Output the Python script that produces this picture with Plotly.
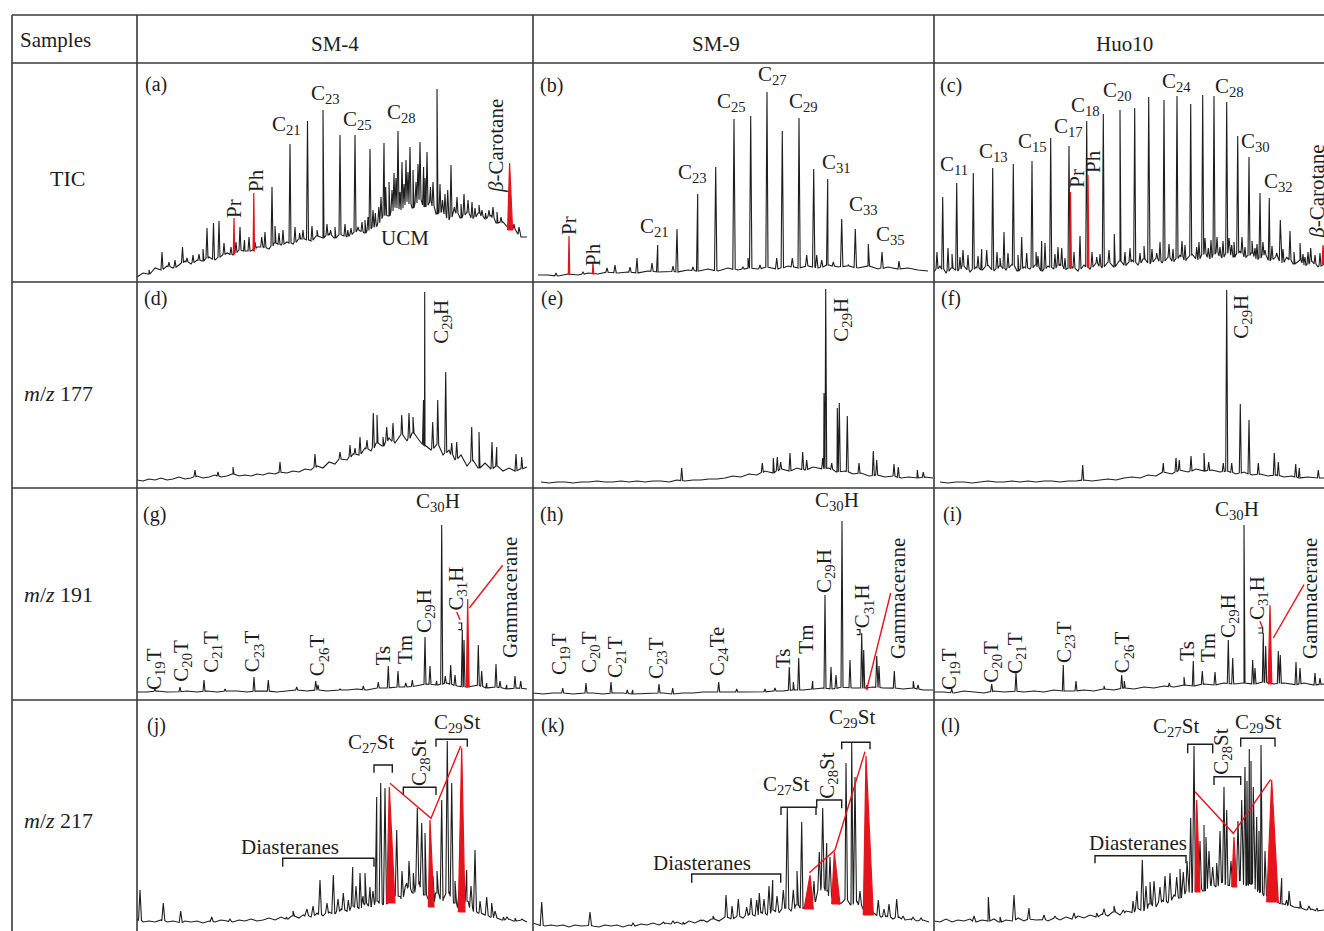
import numpy as np
import plotly.graph_objects as go

# page geometry: body margin is removed after plotting so the figure fills the window
PAGE_MARGIN = 0
FIG_W, FIG_H = 1324, 931
GRID_X = [12, 137, 533, 934]
GRID_Y = [15, 63, 282, 488, 700]
RIGHT_EDGE, BOTTOM_EDGE = 1324, 931
FONT = "Liberation Serif"
INK = "#1e1e1e"
RED = "#e5141c"
RULE = "#3a3a3a"

SAMPLES = ["SM-4", "SM-9", "Huo10"]
ROW_NAMES = ["TIC", "<i>m</i>/<i>z</i> 177", "<i>m</i>/<i>z</i> 191", "<i>m</i>/<i>z</i> 217"]

# ---------------- (a) SM-4 TIC ----------------
A_BX = list(range(0, 391, 6))
A_BY = [5, 9, 8, 14, 12, 16, 14, 17, 21, 18,
        22, 21, 25, 22, 26, 29, 27, 32, 31, 31,
        35, 35, 33, 39, 37, 40, 38, 43, 43, 41,
        46, 44, 48, 44, 48, 45, 49, 52, 49, 54,
        56, 67, 66, 76, 72, 82, 74, 84, 75, 80,
        68, 71, 62, 71, 64, 70, 63, 69, 63, 67,
        59, 60, 53, 53, 45, 45]
A_PX = [25, 45.5, 56, 70, 76.5, 82, 87, 103, 107.5, 124.7, 135, 142, 153, 162.6, 166, 170.5, 180, 186,
        193.6, 203, 210.8, 218, 221, 228, 233, 238.3, 241.8, 247, 248.7, 257, 261, 265, 269, 273, 276,
        283, 286.6, 290, 293.5, 300, 305.5, 310.7, 314, 317.5, 331, 342, 348.5, 356]
A_PY = [30, 35, 27, 54, 59, 61, 39, 55, 42, 45, 95, 49, 138, 49, 52, 161, 52, 172,
        52, 147, 52, 147, 55, 62, 133, 69, 75, 139, 95, 109, 151, 120, 122, 135, 112,
        140, 115, 130, 95, 193, 82, 92, 117, 75, 82, 77, 69, 75]
A_MX = [12, 32, 38, 50, 62, 66, 94, 99, 112, 118, 128, 138, 146, 158, 175, 190, 198, 208, 214, 225,
        231, 236, 244, 252, 255, 259, 263, 267, 271, 279, 281, 288, 296, 303, 308, 320, 324, 327, 335,
        338, 345, 352, 360, 364, 377, 382]
A_MY = [12, 20, 22, 24, 28, 33, 35, 40, 45, 40, 50, 56, 52, 55, 56, 58, 55, 58, 54, 60,
        65, 72, 85, 100, 92, 104, 90, 98, 110, 100, 118, 104, 100, 98, 88, 85, 78, 88, 80,
        74, 72, 72, 70, 65, 58, 55]
A_RX = [97, 116.8, 372.6]
A_RY = [64, 89, 119]
A_RB = [28, 31, 52]

# ---------------- (b) SM-9 TIC ----------------
B_BX = list(range(5, 396, 10))
B_BY = [7, 7, 6, 8, 7, 9, 8, 10, 9, 10,
        9, 11, 10, 11, 10, 12, 11, 13, 11, 14,
        12, 14, 13, 15, 13, 16, 14, 16, 14, 17,
        15, 16, 14, 16, 13, 15, 13, 14, 12, 11]
B_PX = [23, 50, 74, 82, 97, 104, 119, 124.7, 140, 144, 160, 164.7, 182.7, 201, 210, 215, 217.7, 227,
        234, 243.7, 249.3, 259.3, 266, 273.7, 280.7, 283.7, 288.7, 294.7, 300.3, 308.7, 315.3, 322.3,
        335.3, 349, 366]
B_PY = [9, 10, 14, 17, 15, 24, 19, 37, 16, 53, 15, 88, 115, 163, 15, 24, 166, 17,
        190, 24, 151, 24, 164, 27, 113, 27, 22, 103, 20, 63, 17, 53,
        38, 30, 21]
B_RX = [36, 60]
B_RY = [46, 19]
B_RB = [8, 8]

# ---------------- (c) Huo10 TIC ----------------
C_BX = list(range(0, 391, 6))
C_BY = [10, 16, 9, 14, 11, 17, 10, 15, 12, 17,
        11, 16, 12, 18, 11, 15, 13, 17, 11, 16,
        13, 18, 12, 15, 11, 17, 13, 19, 14, 20,
        15, 21, 16, 22, 17, 23, 18, 24, 19, 25,
        20, 27, 21, 28, 22, 29, 23, 30, 24, 30,
        25, 31, 24, 29, 22, 28, 21, 26, 19, 24,
        18, 22, 16, 21, 15, 18]
C_PX = [8.7, 14, 22.7, 29, 39.3, 47.7, 52.7, 58.7, 70, 74, 79.3, 87.7, 92.7, 98, 107.7, 111, 116.7,
        127.7, 135, 146, 152.7, 162.7, 169.3, 180.3, 186, 196, 200.7, 206, 214.7, 222.7, 230, 243,
        256.7, 262.7, 268.7, 274.3, 280, 286, 292.7, 297.7, 303.7, 311, 315, 321, 326, 331, 335.3,
        342.7, 346.3, 352.7, 356, 366, 371, 376.7]
C_PY = [85, 34, 99, 32, 109, 33, 32, 114, 50, 29, 118, 45, 29, 121, 41, 39, 144,
        34, 136, 46, 161, 25, 168, 48, 172, 34, 174, 29, 185, 29, 182, 186,
        178, 35, 187, 34, 186, 35, 180, 37, 146, 35, 125, 34, 89, 32, 84,
        29, 62, 25, 51, 39, 25, 34]
C_MX = [3, 18, 26, 34, 44, 63, 66, 84, 102, 104, 121, 124, 131, 140, 158, 166, 175, 191, 210, 218,
        226, 235, 239, 248, 251, 265, 271, 277, 283, 289, 295, 300, 308, 318, 323, 329, 338, 349,
        360, 369, 374, 381, 386]
C_MY = [30, 28, 25, 27, 26, 30, 24, 27, 30, 26, 28, 35, 24, 30, 30, 28, 32, 30, 36, 33,
        40, 38, 33, 41, 37, 40, 44, 42, 45, 41, 44, 40, 45, 41, 38, 40, 36, 33,
        30, 28, 30, 27, 29]
C_RX = [136.5, 154, 389]
C_RY = [90, 107, 37]
C_RB = [14, 15, 18]

# ---------------- (d) SM-4 m/z 177 ----------------
D_BX = list(range(0, 391, 6))
D_BY = [8, 7, 9, 8, 10, 8, 9, 11, 9, 10,
        12, 10, 11, 13, 11, 12, 14, 12, 13, 12,
        14, 13, 15, 14, 16, 15, 17, 16, 19, 18,
        22, 20, 26, 24, 30, 28, 34, 33, 40, 37,
        45, 42, 50, 45, 54, 47, 55, 48, 42, 38,
        44, 33, 38, 28, 33, 22, 28, 20, 25, 19,
        22, 17, 20, 17, 19, 21]
D_PX = [58, 81, 96, 143, 178, 203, 213, 218, 223, 230, 236.3, 240, 246, 249.7, 256, 264.7, 272,
        276, 286.5, 287.7, 295.7, 300.7, 308.7, 314.7, 319.7, 334.7, 342, 355, 359.7, 379, 384.7]
D_PY = [18, 16, 21, 26, 34, 36, 43, 40, 51, 48, 75, 73, 51, 61, 65, 73, 75,
        71, 88, 196, 66, 88, 116, 45, 46, 61, 56, 46, 41, 34, 31]

# ---------------- (e) SM-9 m/z 177 ----------------
E_BX = list(range(8, 401, 8))
E_BY = [6, 5, 6, 6, 5, 6, 6, 7, 6, 6,
        7, 6, 7, 6, 7, 7, 6, 8, 7, 8,
        8, 9, 9, 10, 12, 11, 14, 13, 17, 15,
        19, 17, 20, 18, 21, 19, 20, 16, 17, 14,
        15, 12, 13, 11, 12, 10, 11, 10, 11, 10]
E_PX = [148.7, 229.3, 240.3, 244.3, 247.7, 257, 269.7, 273.7, 289.7, 291, 292.7, 298.7, 304.3,
        306.3, 314.3, 326, 340.3, 343.7, 361, 365.3, 384.3, 390.3]
E_PY = [20, 25, 30, 31, 26, 35, 36, 28, 30, 95, 199, 25, 80,
        85, 72, 25, 37, 28, 24, 21, 18, 16]

# ---------------- (f) Huo10 m/z 177 ----------------
F_BX = list(range(6, 391, 8))
F_BY = [6, 5, 6, 6, 5, 6, 7, 6, 6, 7,
        6, 7, 6, 7, 7, 6, 7, 7, 8, 7,
        8, 9, 8, 10, 11, 10, 13, 12, 16, 14,
        18, 16, 19, 17, 18, 16, 17, 14, 16, 13,
        14, 12, 13, 11, 12, 10, 11, 10, 10]
F_PX = [148.7, 229.3, 242, 245.3, 257, 270, 274.7, 289.3, 292.7, 297.7, 306.3, 315, 324.3, 340.3,
        344.3, 361.7, 365.3, 384.3]
F_PY = [23, 25, 30, 28, 32, 35, 26, 25, 198, 25, 84, 68, 25, 35,
        26, 24, 20, 18]

# ---------------- (g) SM-4 m/z 191 ----------------
G_BX = list(range(0, 391, 10))
G_BY = [8, 8, 9, 8, 8, 9, 8, 9, 8, 9,
        9, 8, 9, 9, 8, 9, 10, 9, 10, 9,
        10, 10, 11, 10, 12, 12, 13, 13, 14, 16,
        15, 17, 14, 13, 15, 12, 13, 11, 12, 11]
G_PX = [18, 43, 67, 88, 117, 131.3, 159.7, 178.7, 181, 203, 226.3, 241.3, 251.3, 261, 268.7, 275.3,
        288, 293, 299.7, 304.7, 308.3, 313.7, 318, 325.3, 327, 341.3, 344.7, 349.7, 359, 363, 369.7,
        378, 383.7]
G_PY = [11, 13, 20, 11, 23, 20, 13, 19, 15, 11, 14, 18, 34, 29, 17, 20,
        63, 34, 19, 175, 24, 35, 25, 70, 60, 55, 29, 17, 36, 19, 15,
        24, 19]
G_RX = [330.7]
G_RY = [101]
G_RB = [13]

# ---------------- (h) SM-9 m/z 191 ----------------
H_BX = list(range(0, 401, 10))
H_BY = [7, 6, 7, 7, 6, 7, 7, 6, 7, 7, 6, 7, 7, 7, 6, 7, 7,
        8, 8, 8, 8, 8, 8, 8, 9, 9, 10, 10, 11, 12, 11, 13, 12, 12, 13, 12, 12, 11, 12, 10, 10]
H_PX = [29.7, 53, 78, 94.3, 99.7, 126, 139.7, 185.7, 203.7, 232, 242, 256.3, 260.3, 265.7, 279.7,
        292, 298, 303, 309, 317, 328.7, 330.7, 343.7, 346, 361.3, 380.3, 385]
H_PY = [12, 17, 18, 10, 10, 16, 12, 18, 11, 11, 12, 33, 18, 42, 19,
        105, 33, 25, 179, 40, 67, 50, 44, 34, 29, 19, 15]
H_RX = [333.7]
H_RY = [15]
H_RB = [11]

# ---------------- (i) Huo10 m/z 191 ----------------
I_BX = list(range(0, 391, 10))
I_BY = [8, 8, 7, 9, 8, 7, 9, 8, 9, 8,
        9, 8, 10, 9, 9, 10, 9, 11, 10, 12,
        11, 13, 12, 14, 13, 15, 14, 16, 15, 17,
        16, 17, 16, 18, 16, 17, 15, 17, 15, 16]
I_PX = [17.7, 57.7, 82, 129.3, 142, 170, 187.7, 190.3, 235.3, 250, 259.3, 268.3, 281, 294.3, 298.7,
        310, 318.7, 321, 329.3, 331.7, 344.3, 346.3, 362, 366, 381, 386]
I_PY = [11, 16, 27, 35, 19, 14, 25, 19, 17, 23, 39, 29, 28, 60, 42,
        175, 40, 32, 67, 54, 49, 45, 38, 32, 27, 22]
I_RX = [336]
I_RY = [95]
I_RB = [16]

# ---------------- (j) SM-4 m/z 217 ----------------
J_BX = list(range(0, 391, 6))
J_BY = [12, 9, 10, 9, 11, 9, 10, 8, 10, 9,
        10, 8, 10, 9, 11, 10, 9, 11, 10, 12,
        10, 11, 13, 11, 14, 12, 15, 13, 16, 14,
        18, 15, 19, 17, 22, 19, 25, 22, 28, 24,
        30, 26, 29, 36, 32, 45, 38, 50, 36, 25,
        38, 30, 40, 28, 21, 30, 20, 18, 16, 14,
        13, 11, 12, 10, 11, 9]
J_PX = [3, 26.3, 43.7, 74.7, 93, 149.7, 166.3, 183, 196.3, 206.3, 211.3, 215.7, 223, 228, 233,
        239.7, 243.7, 248, 259.7, 269.7, 276.3, 280.3, 284.7, 288, 304.7, 310.3, 314.7, 329.7, 338,
        349.7, 354.7, 366.3]
J_PY = [41, 28, 20, 14, 12, 14, 16, 51, 56, 38, 31, 64, 58, 58, 44,
        134, 148, 143, 101, 48, 58, 123, 108, 98, 131, 190, 148, 61, 81,
        34, 28, 14]
J_MX = [156, 170, 176, 190, 201, 219, 226, 236, 265, 272, 296, 300, 318, 322, 334, 343, 358, 370, 378, 385]
J_MY = [20, 22, 25, 28, 32, 45, 35, 40, 60, 70, 55, 60, 50, 40, 45, 30, 20, 14, 13, 12]
J_RX = [252.3, 293, 324.7]
J_RY = [144, 111, 183]
J_RB = [28, 24, 19]

# ---------------- (k) SM-9 m/z 217 ----------------
K_BX = list(range(0, 397, 6))
K_BY = [8, 6, 5, 6, 5, 6, 4, 6, 5, 6,
        5, 4, 6, 5, 6, 4, 6, 5, 7, 6,
        8, 6, 8, 7, 9, 7, 10, 8, 11, 9,
        12, 10, 14, 12, 15, 13, 17, 15, 19, 16,
        21, 18, 24, 20, 26, 22, 25, 30, 45, 40,
        30, 27, 32, 26, 30, 22, 20, 17, 14, 15,
        12, 14, 11, 12, 10, 11, 9]
K_PX = [8.7, 57, 130.3, 170.3, 193, 205.3, 213.7, 223.7, 226.3, 239.7, 250.3, 254.3, 260.3, 268.7,
        286.3, 289.7, 293.7, 297, 307, 313, 318.7, 322, 345.3, 363.7]
K_PY = [29, 19, 9, 11, 36, 32, 24, 31, 38, 51, 41, 123, 41, 109,
        79, 123, 88, 74, 28, 168, 188, 154, 31, 32]
K_MX = [100, 140, 150, 180, 199, 218, 231, 236, 244, 264, 275, 281, 304, 327, 337, 351, 356, 370, 380, 388]
K_MY = [8, 10, 9, 15, 25, 33, 32, 45, 35, 60, 40, 50, 40, 40, 30, 22, 27, 15, 14, 13]
K_RX = [277, 301.3, 333]
K_RY = [56, 79, 175]
K_RB = [22, 27, 16]

# ---------------- (l) Huo10 m/z 217 ----------------
L_BX = list(range(0, 391, 6))
L_BY = [10, 9, 12, 9, 11, 10, 12, 9, 11, 10,
        12, 9, 11, 10, 13, 10, 12, 11, 12, 10,
        13, 11, 14, 12, 15, 13, 16, 14, 17, 15,
        19, 16, 20, 18, 23, 20, 27, 24, 31, 28,
        36, 33, 40, 38, 44, 40, 47, 44, 50, 45,
        46, 52, 45, 48, 40, 36, 33, 30, 27, 26,
        24, 23, 21, 22, 20, 21]
L_PX = [54.3, 80, 95, 121, 162.7, 189.3, 208.3, 216, 226, 236, 242.7, 249.3, 256.7, 260, 270, 272,
        278.7, 282.7, 290, 292.7, 307.7, 311, 313, 315.3, 317, 319.3, 322.7, 327, 347.7, 352.7]
L_PY = [34, 36, 23, 15, 18, 21, 71, 49, 44, 58, 54, 59, 113, 185, 106, 94,
        64, 68, 144, 121, 131, 164, 150, 182, 170, 144, 114, 186, 53, 31]
L_MX = [40, 66, 110, 140, 170, 180, 199, 203, 212, 220, 231, 246, 253, 266, 275, 286, 297, 304, 325,
        331, 340, 355, 366, 375, 383]
L_MY = [15, 14, 16, 18, 22, 25, 30, 40, 45, 50, 55, 62, 70, 90, 80, 100, 70, 110, 100,
        80, 60, 40, 30, 25, 23]
L_RX = [262.7, 300, 337.7]
L_RY = [131, 94, 151]
L_RB = [39, 44, 29]

PANELS = [
    dict(tag="(a)", bx=A_BX, by=A_BY, px=A_PX + A_MX, py=A_PY + A_MY, rx=A_RX, ry=A_RY, rb=A_RB,
         hw=1.0, rw=[(0.7, 0.7), (0.7, 0.7), (2.0, 3.0)]),
    dict(tag="(b)", bx=B_BX, by=B_BY, px=B_PX, py=B_PY, rx=B_RX, ry=B_RY, rb=B_RB, hw=1.2,
         rw=[(0.7, 0.7), (0.7, 0.7)]),
    dict(tag="(c)", bx=C_BX, by=C_BY, px=C_PX + C_MX, py=C_PY + C_MY, rx=C_RX, ry=C_RY, rb=C_RB,
         hw=1.0, rw=[(0.7, 0.9), (0.7, 0.9), (1.0, 2.0)]),
    dict(tag="(d)", bx=D_BX, by=D_BY, px=D_PX, py=D_PY, hw=1.0),
    dict(tag="(e)", bx=E_BX, by=E_BY, px=E_PX, py=E_PY, hw=1.0),
    dict(tag="(f)", bx=F_BX, by=F_BY, px=F_PX, py=F_PY, hw=1.0),
    dict(tag="(g)", bx=G_BX, by=G_BY, px=G_PX, py=G_PY, rx=G_RX, ry=G_RY, rb=G_RB, hw=1.0,
         rw=[(1.4, 1.4)]),
    dict(tag="(h)", bx=H_BX, by=H_BY, px=H_PX, py=H_PY, rx=H_RX, ry=H_RY, rb=H_RB, hw=1.0,
         rw=[(1.0, 1.0)]),
    dict(tag="(i)", bx=I_BX, by=I_BY, px=I_PX, py=I_PY, rx=I_RX, ry=I_RY, rb=I_RB, hw=1.0,
         rw=[(1.8, 1.8)]),
    dict(tag="(j)", bx=J_BX, by=J_BY, px=J_PX + J_MX, py=J_PY + J_MY, rx=J_RX, ry=J_RY, rb=J_RB,
         hw=1.5, rw=[(2.6, 5.7), (1.7, 4.0), (3.4, 3.3)]),
    dict(tag="(k)", bx=K_BX, by=K_BY, px=K_PX + K_MX, py=K_PY + K_MY, rx=K_RX, ry=K_RY, rb=K_RB,
         hw=1.5, rw=[(6.0, 3.3), (2.6, 5.7), (2.7, 7.3)]),
    dict(tag="(l)", bx=L_BX, by=L_BY, px=L_PX + L_MX, py=L_PY + L_MY, rx=L_RX, ry=L_RY, rb=L_RB,
         hw=1.5, rw=[(1.7, 3.3), (2.3, 2.7), (5.0, 6.6)]),
]


def sub(a, n, b=""):
    return f"{a}<sub>{n}</sub>{b}"


BETA = "<i>β</i>-Carotane"
LABELS = {
    0: [(sub("C", 21), 149, 157, 0), (sub("C", 23), 188, 188, 0), (sub("C", 25), 220, 162, 0),
        (sub("C", 28), 264, 169, 0), ("Pr", 97, 73, -90), ("Ph", 119, 101, -90),
        (BETA, 359, 136, -90), ("UCM", 268, 44, 0)],
    1: [(sub("C", 21), 121, 55, 0), (sub("C", 23), 159, 109, 0), (sub("C", 25), 198, 180, 0),
        (sub("C", 27), 239, 207, 0), (sub("C", 29), 270, 180, 0), (sub("C", 31), 303, 119, 0),
        (sub("C", 33), 330, 77, 0), (sub("C", 35), 357, 47, 0), ("Pr", 36, 56, -90), ("Ph", 60, 27, -90)],
    2: [(sub("C", 11), 20, 117, 0), (sub("C", 13), 60, 130, 0), (sub("C", 15), 98, 140, 0),
        (sub("C", 17), 134, 155, 0), (sub("C", 18), 151, 176, 0), (sub("C", 20), 183, 191, 0),
        (sub("C", 24), 242, 200, 0), (sub("C", 28), 295, 195, 0), (sub("C", 30), 321, 140, 0),
        (sub("C", 32), 344, 100, 0), ("Pr", 142.7, 104, -90), ("Ph", 159, 120, -90),
        (BETA, 382.7, 90, -90)],
    3: [(sub("C", 29, "H"), 304.7, 166, -90)],
    4: [(sub("C", 29, "H"), 308.7, 168, -90)],
    5: [(sub("C", 29, "H"), 307.7, 171, -90)],
    6: [(sub("C", 30, "H"), 301, 198, 0), (sub("C", 19, "T"), 18, 31, -90), (sub("C", 20, "T"), 44.7, 39, -90),
        (sub("C", 21, "T"), 74.7, 48, -90), (sub("C", 23, "T"), 116.3, 49, -90),
        (sub("C", 26, "T"), 181.3, 45, -90), ("Ts", 246.3, 45, -90), ("Tm", 268, 50, -90),
        (sub("C", 29, "H"), 288, 89, -90), (sub("C", 31, "H"), 319.5, 111, -90),
        ("Gammacerane", 373, 102, -90)],
    7: [(sub("C", 30, "H"), 304, 199, 0), (sub("C", 19, "T"), 27, 46, -90), (sub("C", 20, "T"), 57, 48, -90),
        (sub("C", 21, "T"), 83, 43, -90), (sub("C", 23, "T"), 124, 42, -90),
        (sub("C", 24, "Te"), 185, 48, -90), ("Ts", 250, 42, -90), ("Tm", 272.7, 61, -90),
        (sub("C", 29, "H"), 292, 129, -90), (sub("C", 31, "H"), 330.3, 94, -90),
        ("Gammacerane", 365, 101, -90)],
    8: [(sub("C", 30, "H"), 303, 190, 0), (sub("C", 19, "T"), 16, 31, -90), (sub("C", 20, "T"), 57.7, 38, -90),
        (sub("C", 21, "T"), 82, 47, -90), (sub("C", 23, "T"), 131, 58, -90),
        (sub("C", 26, "T"), 189.3, 48, -90), ("Ts", 252.7, 49, -90), ("Tm", 274, 52, -90),
        (sub("C", 29, "H"), 295, 84, -90), (sub("C", 31, "H"), 324, 102, -90),
        ("Gammacerane", 376, 101, -90)],
    9: [(sub("C", 27, "St"), 234, 188, 0), (sub("C", 28, "St"), 283, 168, -90),
        (sub("C", 29, "St"), 320, 208, 0), ("Diasteranes", 153, 84, 0)],
    10: [(sub("C", 27, "St"), 253, 146, 0), (sub("C", 28, "St"), 294.7, 155, -90),
         (sub("C", 29, "St"), 319, 213, 0), ("Diasteranes", 169, 68, 0)],
    11: [(sub("C", 27, "St"), 242, 204, 0), (sub("C", 28, "St"), 287.7, 179, -90),
         (sub("C", 29, "St"), 324, 208, 0), ("Diasteranes", 204, 88, 0)],
}
TAG_POS = {0: (19, 198), 1: (18, 197), 2: (17, 197), 3: (18, 190), 4: (19, 190), 5: (17, 190),
           6: (17, 186), 7: (18, 186), 8: (19, 186), 9: (19, 206), 10: (19, 206), 11: (17, 206)}

BRACKETS = {
    9: [(145.7, 237, 72.7, 64.3), (237, 255.3, 166, 158.3), (266.3, 299, 143.7, 136), (299, 330.3, 191.7, 184.3)],
    10: [(158.7, 247.7, 57, 48.3), (248, 283, 123.7, 116), (283.7, 308.7, 131, 122.7), (308.7, 337, 188.7, 181.7)],
    11: [(161, 252, 75.3, 67.7), (253.7, 278.7, 186.7, 177.7), (280, 306.7, 154.3, 146), (306.7, 341, 192.7, 184.3)],
}
RED_GUIDES = {
    6: [[(332.3, 92), (365.7, 134.7)], [(319.7, 88), (323, 80.3)]],
    7: [[(333.7, 10.3), (357.7, 107)]],
    8: [[(339.3, 62), (370, 115.3)], [(326, 78.7), (328.7, 72)]],
    9: [[(253, 147.7), (294, 112.7), (323.7, 185)]],
    10: [[(276.3, 58.3), (302, 81), (332, 179.3)]],
    11: [[(261, 139.3), (299.3, 97.7), (336.7, 151.7)]],
}
HOP_MARKS = {6: (321.3, 324.7, 70.3, 77), 7: (323.7, 327, 65.3, 70.3), 8: (324.3, 328.7, 67, 72)}


def chrom_line(bx, by, px, py, hw):
    bx = np.asarray(bx, float)
    by = np.asarray(by, float)
    xs, ys = list(bx), list(by)
    for x, h in zip(px, py):
        b = float(np.interp(x, bx, by))
        xs += [x - hw, x, x + hw]
        ys += [b, h, b]
    xs = np.asarray(xs)
    ys = np.asarray(ys)
    order = np.argsort(xs, kind="stable")
    return xs[order], ys[order]


def red_polys(rx, ry, rb, rw):
    xs, ys = [], []
    for x, h, b, (wl, wr) in zip(rx, ry, rb, rw):
        xs += [x - wl, x, x + wr, x - wl, None]
        ys += [b, h, b, b, None]
    return xs, ys


def pxp(x):
    return (x - PAGE_MARGIN) / FIG_W


def pyp(y):
    return 1 - (y - PAGE_MARGIN) / FIG_H


def col_span(c):
    left = GRID_X[c + 1]
    right = GRID_X[c + 2] if c + 2 < len(GRID_X) else RIGHT_EDGE
    return left, right


def row_span(r):
    top = GRID_Y[r + 1]
    bottom = GRID_Y[r + 2] if r + 2 < len(GRID_Y) else BOTTOM_EDGE
    return top, bottom


def txt(text, x, y, xref, yref, size, angle=0):
    return dict(text=text, x=x, y=y, xref=xref, yref=yref, showarrow=False, textangle=angle,
                xanchor="center", yanchor="middle", font=dict(family=FONT, size=size, color=INK))


fig = go.Figure()
annotations = []
shapes = []
layout_axes = {}

for p, spec in enumerate(PANELS):
    r, c = divmod(p, 3)
    left, right = col_span(c)
    top, bottom = row_span(r)
    s = "" if p == 0 else str(p + 1)
    xa, ya = "x" + s, "y" + s
    layout_axes["xaxis" + s] = dict(domain=[pxp(left), min(1.0, pxp(right))], range=[0, right - left],
                                    visible=False, fixedrange=True, anchor=ya)
    layout_axes["yaxis" + s] = dict(domain=[max(0.0, pyp(bottom)), pyp(top)], range=[0, bottom - top],
                                    visible=False, fixedrange=True, anchor=xa)
    lx, ly = chrom_line(spec["bx"], spec["by"], spec["px"], spec["py"], spec["hw"])
    fig.add_trace(go.Scatter(x=lx, y=ly, mode="lines", line=dict(color=INK, width=1.1),
                             xaxis=xa, yaxis=ya, hoverinfo="skip", showlegend=False))
    if "rx" in spec:
        rxs, rys = red_polys(spec["rx"], spec["ry"], spec["rb"], spec["rw"])
        fig.add_trace(go.Scatter(x=rxs, y=rys, mode="lines", fill="toself", fillcolor=RED,
                                 line=dict(color=RED, width=1.2), xaxis=xa, yaxis=ya,
                                 hoverinfo="skip", showlegend=False))
    tx, ty = TAG_POS[p]
    annotations.append(txt(spec["tag"], tx, ty, xa, ya, 20))
    for text, x, y, ang in LABELS.get(p, []):
        annotations.append(txt(text, x, y, xa, ya, 21, ang))
    for x0, x1, y, yt in BRACKETS.get(p, []):
        shapes.append(dict(type="path", xref=xa, yref=ya,
                           path=f"M {x0},{yt} L {x0},{y} L {x1},{y} L {x1},{yt}",
                           line=dict(color=INK, width=1.4)))
    for pts in RED_GUIDES.get(p, []):
        path = "M " + " L ".join(f"{x},{y}" for x, y in pts)
        shapes.append(dict(type="path", xref=xa, yref=ya, path=path, line=dict(color=RED, width=1.4)))
    if p in HOP_MARKS:
        x0, x1, y0, y1 = HOP_MARKS[p]
        shapes.append(dict(type="path", xref=xa, yref=ya,
                           path=f"M {x0},{y1} L {x1},{y1} L {x1},{y0} L {x0},{y0}",
                           line=dict(color=INK, width=1.2)))

for y in GRID_Y:
    shapes.append(dict(type="line", xref="paper", yref="paper", x0=pxp(GRID_X[0]), x1=1,
                       y0=pyp(y), y1=pyp(y), line=dict(color=RULE, width=1.6)))
for x in GRID_X:
    shapes.append(dict(type="line", xref="paper", yref="paper", x0=pxp(x), x1=pxp(x),
                       y0=0, y1=pyp(GRID_Y[0]), line=dict(color=RULE, width=1.6)))

HEAD_POS = [(335, 44), (716, 44), (1124, 44)]
annotations.append(txt("Samples", pxp(55), pyp(40), "paper", "paper", 21))
for name, (hx, hy) in zip(SAMPLES, HEAD_POS):
    annotations.append(txt(name, pxp(hx), pyp(hy), "paper", "paper", 21))
ROW_POS = [(67, 178), (59, 393), (59, 594), (59, 820)]
for name, (hx, hy) in zip(ROW_NAMES, ROW_POS):
    annotations.append(txt(name, pxp(hx), pyp(hy), "paper", "paper", 22))

fig.update_layout(width=FIG_W, height=FIG_H, margin=dict(l=0, r=0, t=0, b=0),
                  paper_bgcolor="white", plot_bgcolor="rgba(0,0,0,0)", showlegend=False,
                  annotations=annotations, shapes=shapes, hovermode=False, **layout_axes)
fig.write_html("out.html",
               config={"displayModeBar": False, "displaylogo": False, "staticPlot": True},
               post_script="document.body.style.margin='0px';"
                           "document.documentElement.style.overflow='hidden';"
                           "document.body.style.overflow='hidden';")
